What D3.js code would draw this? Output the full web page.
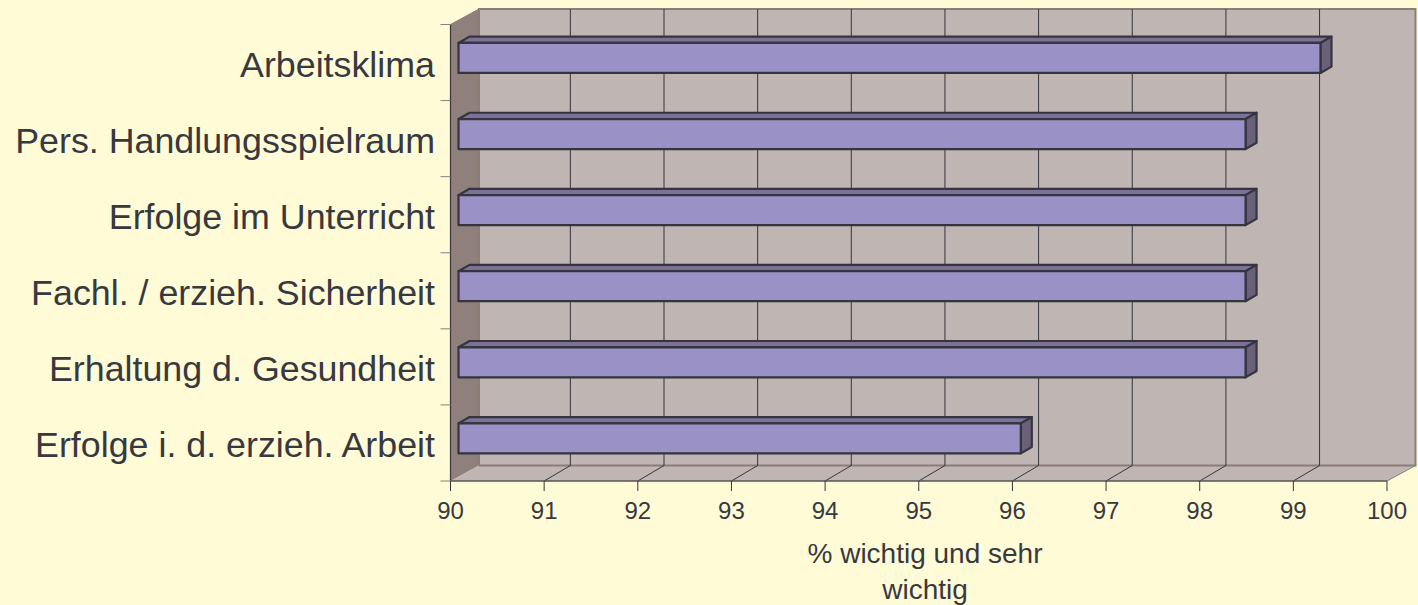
<!DOCTYPE html>
<html><head><meta charset="utf-8">
<script src="https://cdn.jsdelivr.net/npm/d3@7"></script>
<style>html,body{margin:0;padding:0;background:#FFFBD7}svg{display:block}text{font-family:"Liberation Sans",Arial,sans-serif;fill:#38383F}</style>
</head><body><svg id="c" width="1418" height="605"></svg>
<script>
const categories=["Arbeitsklima","Pers. Handlungsspielraum","Erfolge im Unterricht","Fachl. / erzieh. Sicherheit","Erhaltung d. Gesundheit","Erfolge i. d. erzieh. Arbeit"];
const values=[99.2,98.4,98.4,98.4,98.4,96.0];
const xTicks=[90,91,92,93,94,95,96,97,98,99,100];
const axisTitle=["% wichtig und sehr","wichtig"];

const L=450.5,R=1387,T=24.5,B=481,dx=28.5,dy=-15.5,gridDx=26.2;
const barDx=11,barDy=-6.3,barOffset=8,barEndOffset=8.4,barH=30,barShift=-4.6;
const C={wall:"#BFB5B2",side:"#8F807B",sideEdge:"#8B7D79",bar:"#9A92C6",top:"#7D7198",right:"#6B6079",line:"#35353F"};
const svg=d3.select("#c");
const x=d3.scaleLinear().domain([90,100]).range([L,R]);
const y=d3.scaleBand().domain(categories).range([T,B]);
const poly=a=>a.map(p=>p.join(",")).join(" ");

// walls
svg.append("polygon").attr("points",poly([[L+dx,T+dy],[R+dx,T+dy],[R+dx,B+dy],[L+dx,B+dy]])).attr("fill",C.wall);
svg.append("polygon").attr("points",poly([[L,T],[L+dx,T+dy],[L+dx,B+dy],[L,B]])).attr("fill",C.side);
svg.append("polygon").attr("points",poly([[L,B],[L+dx,B+dy],[R+dx,B+dy],[R,B]])).attr("fill",C.wall);
svg.append("polyline").attr("points",poly([[L+dx,B+dy],[L+dx,T+dy],[R+dx,T+dy],[R+dx,B+dy],[L+dx,B+dy]])).attr("fill","none").attr("stroke",C.sideEdge).attr("stroke-width",2);
svg.append("line").attr("x1",R).attr("y1",B).attr("x2",R+dx).attr("y2",B+dy).attr("stroke",C.sideEdge).attr("stroke-width",1);
svg.append("line").attr("x1",L).attr("y1",T).attr("x2",L+dx).attr("y2",T+dy).attr("stroke",C.sideEdge).attr("stroke-width",1);

// grid
const inner=xTicks.slice(1,-1);
svg.selectAll(".g").data(inner).join("polyline").attr("class","g")
 .attr("points",d=>poly([[x(d),B],[x(d)+gridDx,B+dy],[x(d)+gridDx,T+dy]]))
 .attr("fill","none").attr("stroke",C.line).attr("stroke-width",1);

// axes
svg.append("line").attr("x1",L).attr("x2",L).attr("y1",T).attr("y2",B).attr("stroke",C.line).attr("stroke-width",1.2);
svg.append("line").attr("x1",L).attr("x2",R).attr("y1",B).attr("y2",B).attr("stroke","#5A5555").attr("stroke-width",1.4);
svg.selectAll(".xt").data(xTicks).join("line").attr("class","xt")
 .attr("x1",d=>x(d)).attr("x2",d=>x(d)).attr("y1",B).attr("y2",B+10).attr("stroke",C.line);
svg.selectAll(".yt").data([...categories.map(c=>y(c)),B]).join("line").attr("class","yt")
 .attr("x1",L-10).attr("x2",L).attr("y1",d=>d).attr("y2",d=>d).attr("stroke","#8B7D79");
svg.selectAll(".xl").data(xTicks).join("text").attr("class","xl")
 .attr("x",d=>x(d)).attr("y",519).attr("text-anchor","middle").attr("font-size",24).text(d=>d);
svg.selectAll(".yl").data(categories).join("text").attr("class","yl")
 .attr("x",435).attr("y",d=>y(d)+y.bandwidth()/2+14).attr("text-anchor","end").attr("font-size",35.8).text(d=>d);
svg.selectAll(".at").data(axisTitle).join("text").attr("class","at")
 .attr("x",925).attr("y",(d,i)=>563+i*35.5).attr("text-anchor","middle").attr("font-size",28).text(d=>d);

// bars
const by=c=>y(c)+y.bandwidth()/2+barShift-barH/2;
const bx0=L+barOffset;
const bx1=v=>x(v)+barEndOffset;
const g=svg.selectAll(".b").data(categories.map((c,i)=>({c,v:values[i]}))).join("g").attr("class","b")
 .attr("stroke",C.line).attr("stroke-width",2.2).attr("stroke-linejoin","round");
g.append("polygon").attr("fill",C.top).attr("points",d=>poly([[bx0,by(d.c)],[bx0+barDx,by(d.c)+barDy],[bx1(d.v)+barDx,by(d.c)+barDy],[bx1(d.v),by(d.c)]]));
g.append("polygon").attr("fill",C.right).attr("points",d=>poly([[bx1(d.v),by(d.c)],[bx1(d.v)+barDx,by(d.c)+barDy],[bx1(d.v)+barDx,by(d.c)+barH+barDy],[bx1(d.v),by(d.c)+barH]]));
g.append("rect").attr("fill",C.bar).attr("x",bx0).attr("y",d=>by(d.c)).attr("width",d=>bx1(d.v)-bx0).attr("height",barH);
</script></body></html>
